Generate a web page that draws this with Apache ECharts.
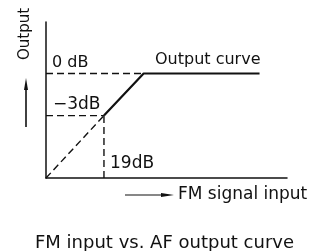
<!DOCTYPE html>
<html>
<head>
<meta charset="utf-8">
<script src="https://cdn.jsdelivr.net/npm/echarts@6/dist/echarts.min.js"></script>
<style>
  html, body { margin: 0; padding: 0; background: #fff; }
  #chart { width: 327px; height: 251px; }
</style>
</head>
<body>
<div id="chart"></div>
<script>
// input level (dB above origin) and output level of the curve break points
var curveInput = [19, 32, 70];
var curveOutput = [40, 67, 67];
var kneeInput = 19;      // 19dB point
var levelMinus3 = 40;    // -3dB output level
var level0 = 67;         // 0dB output level
var axisMaxX = 79;
var axisMaxY = 100;

var ink = '#111';
var font = 'DejaVu Sans';

var curveData = [];
for (var i = 0; i < curveInput.length; i++) {
  curveData.push([curveInput[i], curveOutput[i]]);
}

function dashed(data) {
  return {
    type: 'line',
    data: data,
    symbol: 'none',
    silent: true,
    lineStyle: { color: ink, width: 1.4, type: [7, 4] }
  };
}

function txt(str, x, y, size, extra) {
  var el = {
    type: 'text',
    x: x,
    y: y,
    style: {
      text: str,
      fill: ink,
      font: size + 'px "' + font + '"',
      textVerticalAlign: 'middle'
    }
  };
  if (extra) {
    for (var k in extra) el[k] = extra[k];
  }
  return el;
}

var myChart = echarts.init(document.getElementById('chart'));
var option = {
  animation: false,
  backgroundColor: '#fff',
  grid: { left: 46, right: 40, top: 22, bottom: 73 },
  xAxis: {
    type: 'value', min: 0, max: axisMaxX,
    axisLine: { lineStyle: { color: ink, width: 1.5 } },
    axisTick: { show: false },
    axisLabel: { show: false },
    splitLine: { show: false }
  },
  yAxis: {
    type: 'value', min: 0, max: axisMaxY,
    axisLine: { show: true, lineStyle: { color: ink, width: 1.5 } },
    axisTick: { show: false },
    axisLabel: { show: false },
    splitLine: { show: false }
  },
  series: [
    {
      type: 'line',
      data: curveData,
      symbol: 'none',
      silent: true,
      lineStyle: { color: ink, width: 2.2 }
    },
    dashed([[0, 0], [kneeInput, levelMinus3]]),
    dashed([[0, levelMinus3], [kneeInput, levelMinus3]]),
    dashed([[kneeInput, 0], [kneeInput, levelMinus3]]),
    dashed([[0, level0], [curveInput[1], level0]])
  ],
  graphic: [
    txt('Output', 25, 34, 15, { rotation: Math.PI / 2, style: {
      text: 'Output', fill: ink, font: '15px "' + font + '"',
      textAlign: 'center', textVerticalAlign: 'middle' } }),
    txt('0 dB', 52, 63, 16),
    txt('\u22123dB', 53, 105, 17),
    txt('19dB', 110, 164, 17),
    txt('Output curve', 155, 60, 16),
    txt('FM signal input', 178, 195, 17),
    txt('FM input vs. AF output curve', 35, 243, 18),
    // output arrow
    { type: 'line', shape: { x1: 26, y1: 127, x2: 26, y2: 88 }, style: { stroke: ink, lineWidth: 1.6 } },
    { type: 'polygon', shape: { points: [[26, 78], [24, 90], [28, 90]] }, style: { fill: ink } },
    // input arrow
    { type: 'line', shape: { x1: 125, y1: 195, x2: 164, y2: 195 }, style: { stroke: ink, lineWidth: 1.2 } },
    { type: 'polygon', shape: { points: [[174, 195], [161, 193], [161, 197]] }, style: { fill: ink } }
  ]
};
myChart.setOption(option);
</script>
</body>
</html>
